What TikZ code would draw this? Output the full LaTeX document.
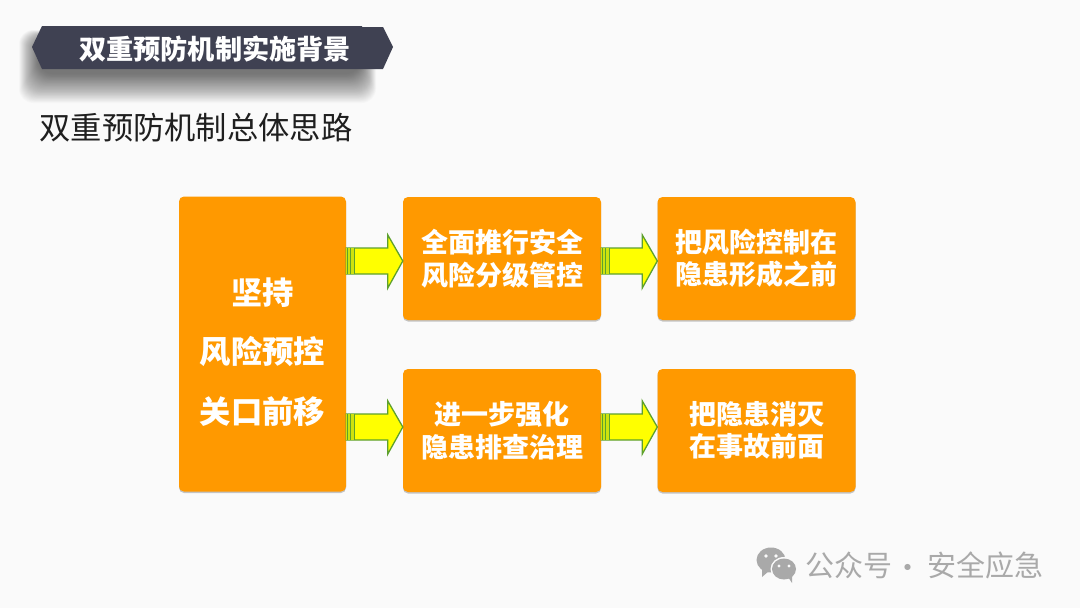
\documentclass[tikz,border=0pt]{standalone}
\usepackage{fontspec}
\setmainfont{Noto Sans CJK SC}
\usetikzlibrary{calc,shadows}
\definecolor{bgc}{HTML}{FAFAFA}
\definecolor{orangebox}{HTML}{FF9900}
\definecolor{bannerc}{HTML}{3F4152}
\definecolor{arrowy}{HTML}{FFFF00}
\definecolor{arrowg}{HTML}{5DA02E}
\definecolor{markc}{HTML}{A9A9A9}
\tikzset{
  box/.style={fill=orangebox,rounded corners=5pt,align=center,text=white,inner sep=0pt,
    drop shadow={shadow xshift=0pt,shadow yshift=-1.5pt,opacity=.22,fill=black},
    font=\bfseries\fontsize{27}{32.5}\selectfont},
  bigbox/.style={box,font=\bfseries\fontsize{31.3}{59.5}\selectfont},
  arrowbody/.style={fill=arrowy,draw=arrowg,line width=1.3pt,line join=miter},
  stripe/.style={draw=arrowg,line width=1.2pt},
  markt/.style={text=markc,inner sep=0pt,font=\fontsize{29}{31}\selectfont},
}
\newcommand{\blockarrow}[3]{%
  \coordinate (s) at (#1.east |- 0,#3);
  \coordinate (t) at (#2.west |- 0,#3);
  \draw[arrowbody] (s) ++(0,-13) -- ($(t)+(-15,-13)$) -- ($(t)+(-15,-26)$) -- (t)
    -- ($(t)+(-15,27)$) -- ($(t)+(-15,13)$) -- ($(s)+(0,13)$) -- cycle;
  \fill[arrowy!70!arrowg] ($(s)+(0,-13)$) rectangle ($(s)+(8,13)$);
  \foreach \d in {1,4.5,8}{\draw[stripe] ($(s)+(\d,-13)$) -- ($(s)+(\d,13)$);}
}
\begin{document}
\begin{tikzpicture}[x=1pt,y=-1pt]
\useasboundingbox (0,0) rectangle (1080,608);
\fill[bgc] (0,0) rectangle (1080,608);
% banner shadow
\foreach \i in {0,...,39}{
  \fill[black,opacity=.017,rounded corners=14pt]
    (19+\i*.5,30+\i*.25) rectangle (376-\i*.4,103-\i*.75);}
\node[inner sep=0pt,minimum size=0pt] (bannertip) at (393,47) {};
\fill[bannerc] (32,47) -- (42,26) -- (362,26) -- (362,27) -- (383,27) -- (bannertip.center) -- (383,69) -- (42,69) -- cycle;
\node[text=white,inner sep=0pt,font=\bfseries\fontsize{27.2}{30}\selectfont] (title) at (215,49) {双重预防机制实施背景};
\node[text=black!88,inner sep=0pt,font=\fontsize{31.3}{34}\selectfont] (subtitle) at (196,128) {双重预防机制总体思路};
% boxes
\node[bigbox,minimum width=167pt,minimum height=295pt] (left) at (262.5,344) {\rule{0pt}{43pt}坚持\\风险预控\\关口前移};
\node[box,minimum width=198pt,minimum height=123pt] (a) at (502,258.5) {全面推行安全\\风险分级管控};
\node[box,minimum width=198pt,minimum height=123pt] (b) at (756.5,258.5) {把风险控制在\\隐患形成之前};
\node[box,minimum width=198pt,minimum height=123pt] (c) at (502,430.5) {进一步强化\\隐患排查治理};
\node[box,minimum width=198pt,minimum height=123pt] (d) at (756.5,430.5) {把隐患消灭\\在事故前面};
\blockarrow{left}{a}{261}
\blockarrow{a}{b}{261}
\blockarrow{left}{c}{427}
\blockarrow{c}{d}{427}
% watermark
\fill[markc] (771,560) ellipse (14.5 and 12.5);
\fill[markc] (762,570) -- (762,577) -- (769,571) -- cycle;
\fill[bgc] (784,569) ellipse (13.5 and 12);
\fill[markc] (784,569) ellipse (12 and 10.5);
\fill[markc] (788,577) -- (792,583) -- (792,576) -- cycle;
\fill[bgc] (766,556) circle (1.8) (776,556) circle (1.8) (779,566) circle (1.6) (789,566) circle (1.6);
\node[markt] (gzh) at (849,565) {公众号};
\node[markt] (dot) at (908,571) {·};
\node[markt] (aqyj) at (985,565) {安全应急};
\end{tikzpicture}
\end{document}
